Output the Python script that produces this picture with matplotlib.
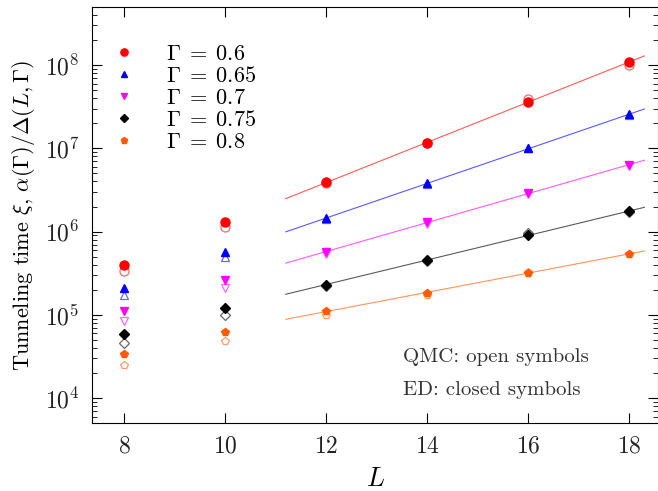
import numpy as np
import matplotlib
matplotlib.use('Agg')
import matplotlib.pyplot as plt

plt.rcParams['font.family'] = 'serif'
plt.rcParams['font.serif'] = ['cmr10']
plt.rcParams['mathtext.fontset'] = 'cm'
plt.rcParams['axes.formatter.use_mathtext'] = True

# system sizes
L = [8, 10, 12, 14, 16, 18]
gammas = ['0.6', '0.65', '0.7', '0.75', '0.8']

# ED (closed symbols)
ed_06 = [4.0e5, 1.3e6, 3.9e6, 1.17e7, 3.6e7, 1.09e8]
ed_065 = [2.1e5, 5.7e5, 1.45e6, 3.8e6, 1.0e7, 2.55e7]
ed_07 = [1.1e5, 2.6e5, 5.7e5, 1.3e6, 2.9e6, 6.3e6]
ed_075 = [5.9e4, 1.2e5, 2.3e5, 4.6e5, 9.1e5, 1.75e6]
ed_08 = [3.4e4, 6.2e4, 1.1e5, 1.85e5, 3.2e5, 5.4e5]

# QMC (open symbols)
qmc_06 = [3.4e5, 1.15e6, 3.8e6, 1.15e7, 3.9e7, 1.0e8]
qmc_065 = [1.75e5, 5.0e5, 1.4e6, 3.7e6, 1.02e7, 2.5e7]
qmc_07 = [8.5e4, 2.1e5, 5.4e5, 1.25e6, 2.85e6, 6.2e6]
qmc_075 = [4.6e4, 1.0e5, 2.25e5, 4.5e5, 9.5e5, 1.7e6]
qmc_08 = [2.5e4, 4.9e4, 1.0e5, 1.75e5, 3.3e5, 5.4e5]

ed = [ed_06, ed_065, ed_07, ed_075, ed_08]
qmc = [qmc_06, qmc_065, qmc_07, qmc_075, qmc_08]
colors = ['#ff0000', '#0000ff', '#ff00ff', '#000000', '#ff5a0a']
markers = ['o', '^', 'v', 'D', 'p']
msizes = [6.5, 6, 6, 4.8, 6]

fig = plt.figure(figsize=(6.58, 4.91), dpi=100)
ax = fig.add_axes([0.140, 0.138, 0.860, 0.848])

Larr = np.array(L)
Lfit = np.linspace(11.2, 18.3, 50)
for i in range(5):
    # exponential fit to ED data for L >= 12
    p = np.polyfit(Larr[2:], np.log10(ed[i][2:]), 1)
    ax.plot(Lfit, 10 ** np.polyval(p, Lfit), '-', color=colors[i], lw=0.8, alpha=0.65)
    ax.plot(L, qmc[i], linestyle='none', marker=markers[i], ms=msizes[i],
            mfc='none', mec=colors[i], mew=0.9, alpha=0.6)
    ax.plot(L, ed[i], linestyle='none', marker=markers[i], ms=msizes[i],
            color=colors[i], label=r'$\Gamma\;=\;%s$' % gammas[i])

ax.set_yscale('log')
ax.set_xlim(7.366, 18.57)
ax.set_ylim(5e3, 5e8)
ax.set_xticks([8, 10, 12, 14, 16, 18])
ax.tick_params(which='both', direction='in', top=True, right=True, labelsize=17,
               colors='#000000', labelcolor='#222222')
ax.tick_params(axis='x', which='major', pad=9)
ax.tick_params(axis='y', which='major', pad=9)
ax.tick_params(which='major', length=7)
ax.tick_params(which='minor', length=3.5)
ax.set_xlabel(r'$L$', fontsize=19, labelpad=7)
ax.set_ylabel(r'Tunneling time $\xi$, $\alpha(\Gamma)/\Delta(L,\Gamma)$', fontsize=16, labelpad=6)

leg = ax.legend(loc='upper left', bbox_to_anchor=(0.039, 0.91), frameon=False,
                fontsize=16, handletextpad=1.45, labelspacing=0.1, markerscale=0.8,
                borderaxespad=0, borderpad=0, handlelength=0.9)

ax.text(0.549, 0.147, 'QMC: open symbols', transform=ax.transAxes, fontsize=15, color='#333333')
ax.text(0.549, 0.067, 'ED: closed symbols', transform=ax.transAxes, fontsize=15, color='#333333')

fig.savefig('out.png', dpi=100)
